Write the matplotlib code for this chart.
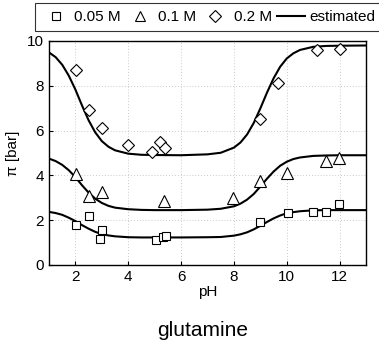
import matplotlib
matplotlib.use("Agg")
import matplotlib.pyplot as plt
from matplotlib.lines import Line2D

plt.rcParams['font.family'] = ['Liberation Sans', 'DejaVu Sans']

# measured data
ph_005 = [2.02, 2.52, 2.93, 3.02, 5.04, 5.33, 5.42, 8.99, 10.04, 11.01, 11.49, 11.99]
pi_005 = [1.79, 2.19, 1.16, 1.56, 1.12, 1.27, 1.29, 1.90, 2.32, 2.38, 2.38, 2.74]

ph_01 = [2.02, 2.53, 3.01, 5.34, 7.98, 8.99, 10.0, 11.49, 11.99]
pi_01 = [4.06, 3.09, 3.24, 2.84, 2.98, 3.76, 4.12, 4.63, 4.79]

ph_02 = [2.02, 2.52, 3.01, 4.0, 4.91, 5.22, 5.38, 8.99, 9.66, 11.13, 12.01]
pi_02 = [8.69, 6.92, 6.10, 5.36, 5.06, 5.50, 5.21, 6.53, 8.11, 9.60, 9.64]

# estimated curves
ph_est = [1, 1.25, 1.5, 1.75, 2.0, 2.25, 2.5, 2.75, 3.0, 3.25, 3.5, 4.0, 4.5, 5, 6,
          7, 7.5, 8, 8.25, 8.5, 8.75, 9, 9.25, 9.5, 9.75, 10, 10.25, 10.5, 11, 11.5, 12, 13]
est_02 = [9.49, 9.28, 8.94, 8.45, 7.83, 7.12, 6.46, 5.92, 5.53, 5.28, 5.12, 4.97, 4.92, 4.91, 4.90,
          4.94, 5.01, 5.24, 5.47, 5.83, 6.34, 6.99, 7.69, 8.33, 8.85, 9.22, 9.45, 9.60, 9.74, 9.78, 9.79, 9.80]
est_01 = [4.75, 4.64, 4.47, 4.23, 3.92, 3.56, 3.23, 2.96, 2.77, 2.64, 2.56, 2.49, 2.46, 2.45, 2.45,
          2.47, 2.51, 2.62, 2.74, 2.92, 3.17, 3.50, 3.85, 4.17, 4.43, 4.61, 4.73, 4.80, 4.87, 4.89, 4.90, 4.90]
est_005 = [2.37, 2.32, 2.24, 2.11, 1.96, 1.78, 1.62, 1.48, 1.38, 1.32, 1.28, 1.24, 1.23, 1.23, 1.23,
           1.24, 1.25, 1.31, 1.37, 1.46, 1.59, 1.75, 1.92, 2.08, 2.21, 2.31, 2.36, 2.40, 2.44, 2.45, 2.45, 2.45]

xticks = [2, 4, 6, 8, 10, 12]
yticks = [0, 2, 4, 6, 8, 10]
labels = ['0.05 M', '0.1 M', '0.2 M', 'estimated']

W, H = 379, 342
fig = plt.figure(figsize=(W / 100, H / 100), dpi=100)
ax = fig.add_axes([49 / W, 1 - 265 / H, (366 - 49) / W, (265 - 41) / H])

for y in (est_005, est_01, est_02):
    ax.plot(ph_est, y, color='black', lw=1.5, zorder=3)

mk = dict(linestyle='none', markerfacecolor='white', markeredgecolor='black', markeredgewidth=0.8, zorder=4)
ax.plot(ph_005, pi_005, marker='s', markersize=5.5, **mk)
ax.plot(ph_01, pi_01, marker='^', markersize=8, **mk)
ax.plot(ph_02, pi_02, marker='D', markersize=6, **mk)

ax.set_xlim(1, 13)
ax.set_ylim(0, 10)
ax.set_xticks(xticks)
ax.set_yticks(yticks)
ax.grid(True, color='#b8b8b8', linestyle=(0, (1, 2.5)), linewidth=0.6)
ax.set_axisbelow(True)
ax.tick_params(direction='in', length=3, labelsize=11, width=0.8)
for s in ax.spines.values():
    s.set_linewidth(1.0)
ax.set_xlabel('pH', fontsize=11, labelpad=1)
ax.set_ylabel('π [bar]', fontsize=11, labelpad=5)

handles = [
    Line2D([], [], linestyle='none', marker='s', markersize=5.5, markerfacecolor='white', markeredgecolor='black', markeredgewidth=0.8),
    Line2D([], [], linestyle='none', marker='^', markersize=7.5, markerfacecolor='white', markeredgecolor='black', markeredgewidth=0.8),
    Line2D([], [], linestyle='none', marker='D', markersize=6, markerfacecolor='white', markeredgecolor='black', markeredgewidth=0.8),
    Line2D([], [], color='black', lw=1.5),
]
leg = fig.legend(handles, labels, ncol=4, loc='upper left', bbox_to_anchor=(35 / W, 1 - 3 / H),
                 fontsize=11, handlelength=1.8, handletextpad=0.3, columnspacing=0.35,
                 borderpad=0.45, borderaxespad=0, frameon=True, fancybox=False)
leg.get_frame().set_edgecolor('black')
leg.get_frame().set_linewidth(0.8)

fig.text(203 / W, 1 - 331 / H, 'glutamine', ha='center', va='center', fontsize=15)

fig.savefig('out.png', dpi=100)
